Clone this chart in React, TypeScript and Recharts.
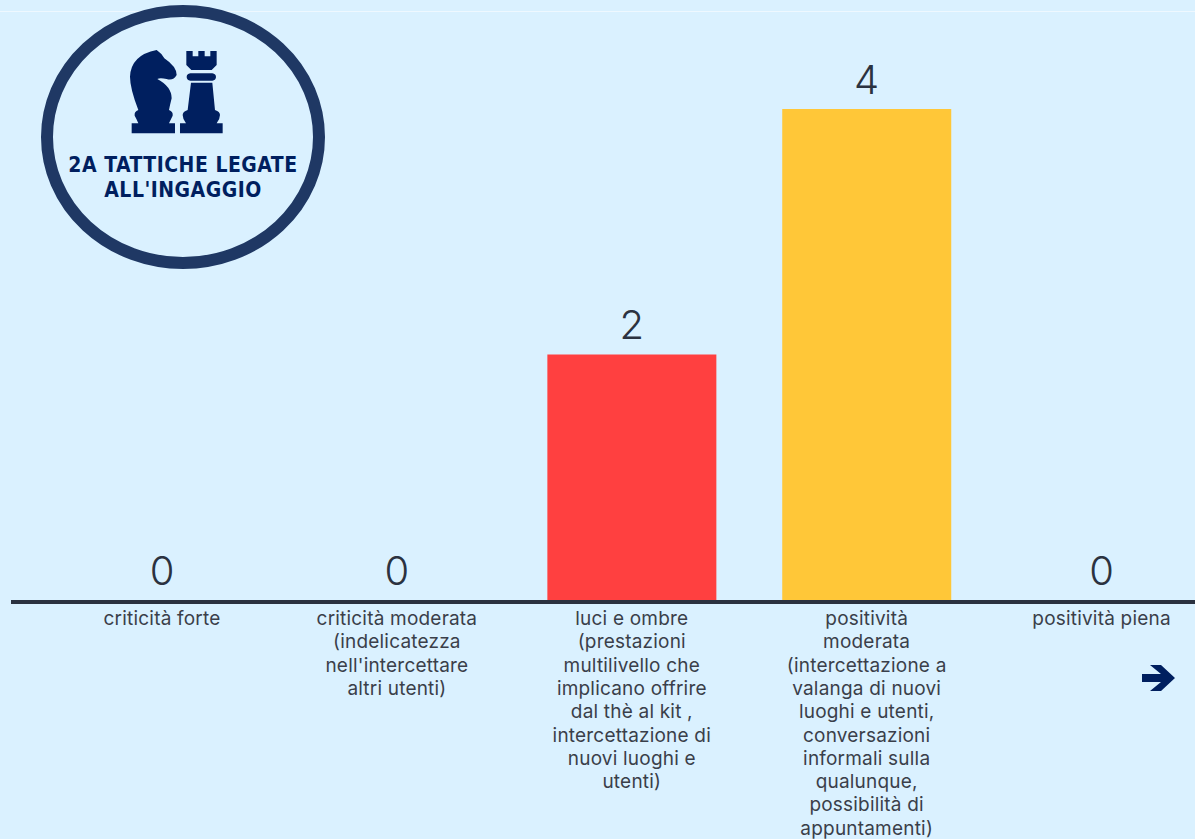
import { Bar, Cell, ComposedChart, LabelList, Line, XAxis, YAxis } from 'recharts';

// Tick captions, one entry per printed line.
const CATEGORY_LINES = [
  ['criticità forte'],
  ['criticità moderata', '(indelicatezza', "nell'intercettare", 'altri utenti)'],
  [
    'luci e ombre',
    '(prestazioni',
    'multilivello che',
    'implicano offrire',
    'dal thè al kit ,',
    'intercettazione di',
    'nuovi luoghi e',
    'utenti)',
  ],
  [
    'positività',
    'moderata',
    '(intercettazione a',
    'valanga di nuovi',
    'luoghi e utenti,',
    'conversazioni',
    'informali sulla',
    'qualunque,',
    'possibilità di',
    'appuntamenti)',
  ],
  ['positività piena'],
];
const COUNTS = [0, 0, 2, 4, 0];
const BAR_COLORS = ['#ff4040', '#ff4040', '#ff4040', '#ffc738', '#ffc738'];
const TITLE_LINES = ['2A TATTICHE LEGATE', "ALL'INGAGGIO"];

const rows = COUNTS.map((count, i) => ({ id: String(i), count }));

const BG = '#daf1ff';
const NAVY = '#001f5f';
const INK = '#2b3240';
const FONT = 'Inter, sans-serif';

function CategoryTick({ x, y, index }: any) {
  return (
    <text x={x} textAnchor="middle" fontFamily={FONT} fontSize={19} letterSpacing={0.2} fill="#3a3f4a">
      {CATEGORY_LINES[index].map((line, i) => (
        <tspan key={i} x={x} y={y + 15 + i * 23.3}>
          {line}
        </tspan>
      ))}
    </text>
  );
}

function CountLabel({ x, y, value }: any) {
  return (
    <text x={x} y={y - 15} textAnchor="middle" fontFamily={FONT} fontSize={40} fontWeight={300} fill={INK}>
      {value}
    </text>
  );
}

// Chess pieces, title and ring in the top left corner.
function Badge() {
  return (
    <svg width={1195} height={839} style={{ position: 'absolute', left: 0, top: 0 }}>
      <ellipse cx={183} cy={137} rx={136} ry={126} fill={BG} stroke="#1f3864" strokeWidth={12} />
      <g transform="translate(125 45) scale(0.3333)" fill={NAVY}>
        <path d="M20 235H150V265H20ZM40 195Q15 130 15 95Q18 30 95 15Q110 25 118 40Q155 65 155 90Q145 108 125 102Q105 98 97 102Q140 125 140 160Q135 180 132 195Q145 200 143 212Q138 222 132 235H40Q35 222 29 212Q27 200 40 195Z" />
        <path d="M165 235H293V265H165ZM184 18H203V34H220V18H239V34H256V18H275V60L260 75H199L184 60ZM196 85H262Q273 87 273 96Q273 105 262 107H196Q185 105 185 96Q185 87 196 85ZM198 113H262L270 195Q285 200 285 210Q285 222 275 235H183Q173 222 173 210Q173 200 188 195Z" />
      </g>
      <text textAnchor="middle" fontFamily="'DejaVu Sans Condensed', 'DejaVu Sans', sans-serif" fontWeight={700} fontSize={21} letterSpacing={0.5} fill={NAVY}>
        {TITLE_LINES.map((line, i) => (
          <tspan key={line} x={183} y={172 + i * 25}>
            {line}
          </tspan>
        ))}
      </text>
      <path d="M1142 674H1161L1150 665H1161L1175 678L1161 691H1150L1161 682H1142Z" fill={NAVY} />
    </svg>
  );
}

export default function App() {
  return (
    <div style={{ position: 'fixed', left: 0, top: 0, width: 1195, height: 839, overflow: 'hidden', background: BG }}>
      <div style={{ position: 'absolute', left: 0, top: 11, width: 1195, height: 1, background: '#eef8ff' }} />
      <ComposedChart
        width={1219}
        height={839}
        data={rows}
        barSize={169}
        margin={{ top: 109, right: 0, bottom: 0, left: 11 }}
        style={{ position: 'absolute', left: 0, top: 0 }}
      >
        <XAxis
          dataKey="id"
          height={237}
          padding={{ left: 33.6, right: 0 }}
          interval={0}
          axisLine={{ stroke: INK, strokeWidth: 4 }}
          tickLine={false}
          tick={<CategoryTick />}
        />
        {/* lower bound a hair under zero so bars stop just above the axis stroke */}
        <YAxis hide domain={[-0.0163, 4]} allowDataOverflow />
        <Bar dataKey="count" isAnimationActive={false}>
          {rows.map((row, i) => (
            <Cell key={row.id} fill={BAR_COLORS[i]} />
          ))}
        </Bar>
        {/* zero-height bars drop their labels, so the numbers hang off an unstroked line */}
        <Line dataKey="count" stroke="none" dot={false} activeDot={false} isAnimationActive={false}>
          <LabelList dataKey="count" content={<CountLabel />} />
        </Line>
      </ComposedChart>
      <Badge />
    </div>
  );
}
